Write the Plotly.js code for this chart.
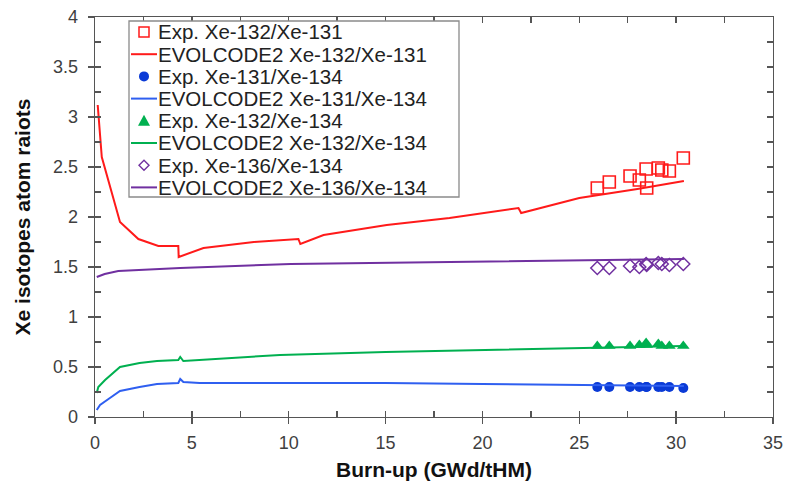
<!DOCTYPE html>
<html>
<head>
<meta charset="utf-8">
<script src="https://cdn.plot.ly/plotly-3.0.1.min.js"></script>
<style>html,body{margin:0;padding:0;background:#fff;}#chart{width:786px;height:487px;}</style>
</head>
<body>
<div id="chart"></div>
<script>
// ---- data ----
const names = [
  "Exp. Xe-132/Xe-131",
  "EVOLCODE2 Xe-132/Xe-131",
  "Exp. Xe-131/Xe-134",
  "EVOLCODE2 Xe-131/Xe-134",
  "Exp. Xe-132/Xe-134",
  "EVOLCODE2 Xe-132/Xe-134",
  "Exp. Xe-136/Xe-134",
  "EVOLCODE2 Xe-136/Xe-134"
];
const expX = [25.93, 26.55, 27.62, 28.1, 28.45, 28.48, 29.08, 29.26, 29.65, 30.37];
const exp132_131 = [2.29, 2.35, 2.41, 2.37, 2.48, 2.29, 2.49, 2.47, 2.46, 2.59];
const exp131_134 = [0.30, 0.30, 0.30, 0.30, 0.30, 0.30, 0.30, 0.30, 0.30, 0.29];
const exp132_134 = [0.71, 0.71, 0.71, 0.72, 0.74, 0.72, 0.73, 0.71, 0.71, 0.71];
const exp136_134 = [1.49, 1.49, 1.51, 1.50, 1.53, 1.52, 1.54, 1.53, 1.52, 1.53];

const simX_132_131 = [0.14, 0.35, 1.29, 2.24, 3.27, 4.3, 4.32, 5.6, 8.2, 9.45, 10.5, 10.6, 11.8, 15.06, 18.3, 21.86, 22.0, 25.0, 28.0, 30.4];
const sim132_131   = [3.12, 2.60, 1.95, 1.78, 1.71, 1.71, 1.60, 1.69, 1.75, 1.77, 1.78, 1.73, 1.82, 1.92, 1.99, 2.09, 2.04, 2.19, 2.28, 2.36];

const simX_131_134 = [0.09, 0.26, 0.77, 1.29, 2.3, 3.2, 4.3, 4.4, 4.56, 5.4, 9.55, 15, 20, 25, 30.4];
const sim131_134   = [0.07, 0.12, 0.19, 0.26, 0.30, 0.33, 0.34, 0.38, 0.35, 0.34, 0.34, 0.34, 0.33, 0.32, 0.31];

const simX_132_134 = [0.09, 0.17, 0.52, 1.29, 2.3, 3.2, 4.3, 4.4, 4.56, 9.55, 15, 20, 25, 30.4];
const sim132_134   = [0.24, 0.30, 0.37, 0.50, 0.54, 0.56, 0.57, 0.60, 0.56, 0.62, 0.65, 0.67, 0.69, 0.71];

const simX_136_134 = [0.09, 0.5, 1.2, 4.4, 10.1, 18.5, 25, 30.4];
const sim136_134   = [1.40, 1.43, 1.46, 1.49, 1.53, 1.55, 1.57, 1.58];

const xTitle = "Burn-up (GWd/tHM)";
const yTitle = "Xe isotopes atom raiots";

// ---- styles ----
const cRed = "#ff1a1a", cBlue = "#0a3ad6", cBlueLine = "#2f5ff0", cGreen = "#00b050", cPurple = "#7030a0";
const FONT = "Liberation Sans, Arial, sans-serif";

const traces = [
  {x: expX, y: exp132_131, mode: "markers", name: names[0],
   marker: {symbol: "square-open", size: 12, color: cRed, line: {width: 1.6, color: cRed}}},
  {x: simX_132_131, y: sim132_131, mode: "lines", name: names[1], line: {color: cRed, width: 2}},
  {x: expX, y: exp131_134, mode: "markers", name: names[2],
   marker: {symbol: "circle", size: 10, color: cBlue}},
  {x: simX_131_134, y: sim131_134, mode: "lines", name: names[3], line: {color: cBlueLine, width: 2}},
  {x: expX, y: exp132_134, mode: "markers", name: names[4],
   marker: {symbol: "triangle-up", size: 11, color: cGreen}},
  {x: simX_132_134, y: sim132_134, mode: "lines", name: names[5], line: {color: cGreen, width: 2}},
  {x: expX, y: exp136_134, mode: "markers", name: names[6],
   marker: {symbol: "diamond-open", size: 10, color: cPurple, line: {width: 1.5, color: cPurple}}},
  {x: simX_136_134, y: sim136_134, mode: "lines", name: names[7], line: {color: cPurple, width: 2}},
  {x: [], y: [], xaxis: "x2", yaxis: "y2", showlegend: false, hoverinfo: "skip"}
].map(t => Object.assign({showlegend: false}, t));

// ---- custom legend (pixel layout helpers) ----
const L = 95, R = 773, T = 17, B = 417;
const px = v => (v - L) / (R - L);
const py = v => (B - v) / (B - T);
const shapes = [];
const annotations = [];
shapes.push({type: "rect", xref: "paper", yref: "paper", x0: px(129), x1: px(459), y0: py(21), y1: py(197),
  line: {color: "#8a8a8a", width: 1.3}, fillcolor: "rgba(255,255,255,1)", layer: "above"});
const rowY = i => 32 + 22.2 * i;
const mx = 144;
names.forEach((n, i) => {
  const yy = rowY(i);
  annotations.push({xref: "paper", yref: "paper", x: px(156), y: py(yy), xanchor: "left", yanchor: "middle",
    text: n, showarrow: false, font: {family: FONT, size: 20.5, color: "#222"}});
});
// line samples
[[1, cRed], [3, cBlueLine], [5, cGreen], [7, cPurple]].forEach(([i, c]) => {
  shapes.push({type: "line", xref: "paper", yref: "paper", x0: px(131), x1: px(157), y0: py(rowY(i)), y1: py(rowY(i)),
    line: {color: c, width: 2}, layer: "above"});
});
// marker samples
let y0 = rowY(0);
shapes.push({type: "rect", xref: "paper", yref: "paper", x0: px(mx - 5), x1: px(mx + 5), y0: py(y0 - 5), y1: py(y0 + 5),
  line: {color: cRed, width: 1.5}, layer: "above"});
y0 = rowY(2);
shapes.push({type: "circle", xref: "paper", yref: "paper", x0: px(mx - 5), x1: px(mx + 5), y0: py(y0 - 5), y1: py(y0 + 5),
  line: {color: cBlue, width: 0}, fillcolor: cBlue, layer: "above"});
y0 = rowY(4);
shapes.push({type: "path", xref: "paper", yref: "paper",
  path: `M ${px(mx - 6)} ${py(y0 + 5)} L ${px(mx + 6)} ${py(y0 + 5)} L ${px(mx)} ${py(y0 - 6)} Z`,
  line: {color: cGreen, width: 0}, fillcolor: cGreen, layer: "above"});
y0 = rowY(6);
shapes.push({type: "path", xref: "paper", yref: "paper",
  path: `M ${px(mx - 5)} ${py(y0)} L ${px(mx)} ${py(y0 - 5)} L ${px(mx + 5)} ${py(y0)} L ${px(mx)} ${py(y0 + 5)} Z`,
  line: {color: cPurple, width: 1.4}, layer: "above"});

const axColor = "#555";
const layout = {
  width: 786, height: 487,
  margin: {l: L, r: 786 - R, t: T, b: 487 - B},
  paper_bgcolor: "#fff", plot_bgcolor: "#fff",
  showlegend: false,
  font: {family: FONT, color: "#404040"},
  xaxis: {
    range: [0, 35], dtick: 5, tick0: 0, showgrid: false, zeroline: false,
    showline: true, linecolor: axColor, linewidth: 1.3,
    ticks: "outside", ticklen: 6, tickwidth: 1.3, tickcolor: axColor,
    tickfont: {family: FONT, size: 18, color: "#404040"}, ticklabelstandoff: 3,
    title: {text: xTitle, font: {family: FONT, size: 21, color: "#111", weight: "bold"}, standoff: 10}
  },
  yaxis: {
    range: [0, 4], dtick: 0.5, tick0: 0, showgrid: false, zeroline: false,
    showline: true, linecolor: axColor, linewidth: 1.3,
    ticks: "outside", ticklen: 6, tickwidth: 1.3, tickcolor: axColor,
    tickfont: {family: FONT, size: 18, color: "#404040"}, ticklabelstandoff: 6,
    title: {text: yTitle, font: {family: FONT, size: 21, color: "#111", weight: "bold"}, standoff: 16}
  },
  xaxis2: {
    overlaying: "x", anchor: "y2", side: "bottom", range: [0, 35], dtick: 2.5, tick0: 0,
    showgrid: false, zeroline: false, showticklabels: false,
    showline: true, linecolor: axColor, linewidth: 1.3, mirror: "ticks",
    ticks: "inside", ticklen: 6, tickwidth: 1.3, tickcolor: axColor
  },
  yaxis2: {
    overlaying: "y", anchor: "x2", side: "left", range: [0, 4], dtick: 0.25, tick0: 0,
    showgrid: false, zeroline: false, showticklabels: false,
    showline: true, linecolor: axColor, linewidth: 1.3, mirror: "ticks",
    ticks: "inside", ticklen: 6, tickwidth: 1.3, tickcolor: axColor
  },
  shapes: shapes,
  annotations: annotations
};

Plotly.newPlot("chart", traces, layout, {displayModeBar: false, staticPlot: true});
</script>
</body>
</html>
